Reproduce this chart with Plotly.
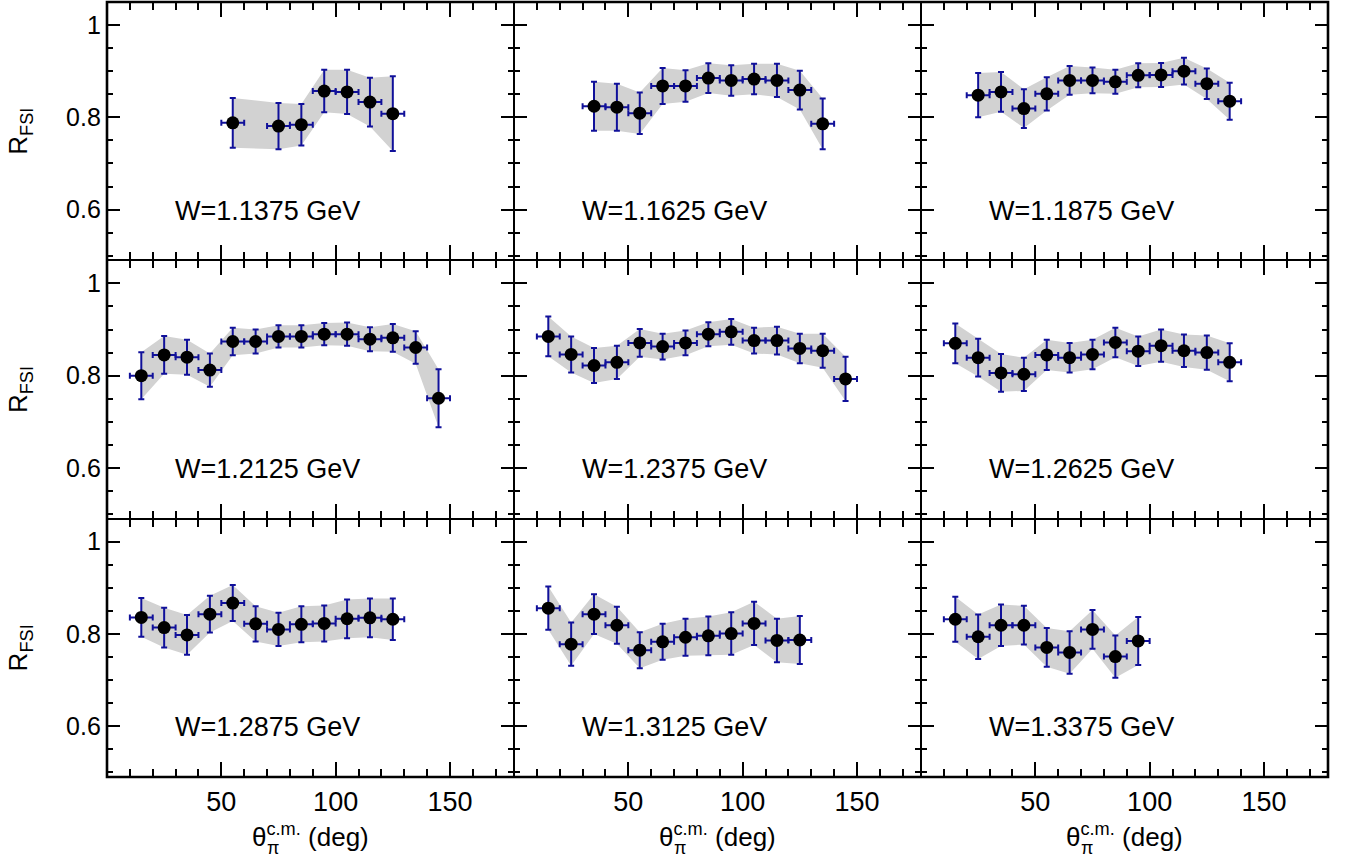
import plotly.graph_objects as go
from plotly.subplots import make_subplots

# W bins (GeV) and per-bin angular distributions of R_FSI
w_labels = ["W=1.1375 GeV", "W=1.1625 GeV", "W=1.1875 GeV",
            "W=1.2125 GeV", "W=1.2375 GeV", "W=1.2625 GeV",
            "W=1.2875 GeV", "W=1.3125 GeV", "W=1.3375 GeV"]

theta_1 = [55, 75, 85, 95, 105, 115, 125]
r_1 = [0.788, 0.781, 0.784, 0.857, 0.855, 0.833, 0.808]
err_1 = [0.054, 0.050, 0.045, 0.046, 0.048, 0.053, 0.081]

theta_2 = [35, 45, 55, 65, 75, 85, 95, 105, 115, 125, 135]
r_2 = [0.824, 0.822, 0.809, 0.868, 0.868, 0.885, 0.880, 0.883, 0.880, 0.859, 0.786]
err_2 = [0.053, 0.051, 0.045, 0.039, 0.034, 0.032, 0.033, 0.033, 0.036, 0.042, 0.055]

theta_3 = [25, 35, 45, 55, 65, 75, 85, 95, 105, 115, 125, 135]
r_3 = [0.848, 0.855, 0.819, 0.851, 0.880, 0.880, 0.877, 0.891, 0.892, 0.900, 0.873, 0.835]
err_3 = [0.048, 0.043, 0.042, 0.036, 0.031, 0.028, 0.026, 0.026, 0.026, 0.029, 0.033, 0.040]

theta_4 = [15, 25, 35, 45, 55, 65, 75, 85, 95, 105, 115, 125, 135, 145]
r_4 = [0.800, 0.845, 0.840, 0.812, 0.874, 0.874, 0.885, 0.885, 0.890, 0.890, 0.879, 0.882, 0.861, 0.751]
err_4 = [0.051, 0.041, 0.038, 0.036, 0.030, 0.026, 0.024, 0.024, 0.024, 0.025, 0.026, 0.030, 0.035, 0.063]

theta_5 = [15, 25, 35, 45, 55, 65, 75, 85, 95, 105, 115, 125, 135, 145]
r_5 = [0.885, 0.846, 0.822, 0.829, 0.871, 0.863, 0.871, 0.890, 0.895, 0.876, 0.876, 0.859, 0.854, 0.793]
err_5 = [0.043, 0.039, 0.038, 0.036, 0.030, 0.028, 0.027, 0.026, 0.028, 0.028, 0.030, 0.032, 0.037, 0.048]

theta_6 = [15, 25, 35, 45, 55, 65, 75, 85, 95, 105, 115, 125, 135]
r_6 = [0.870, 0.839, 0.806, 0.803, 0.845, 0.839, 0.846, 0.872, 0.853, 0.865, 0.854, 0.850, 0.829]
err_6 = [0.043, 0.041, 0.041, 0.036, 0.033, 0.032, 0.032, 0.032, 0.032, 0.035, 0.035, 0.037, 0.041]

theta_7 = [15, 25, 35, 45, 55, 65, 75, 85, 95, 105, 115, 125]
r_7 = [0.836, 0.814, 0.798, 0.843, 0.867, 0.822, 0.810, 0.821, 0.823, 0.833, 0.835, 0.832]
err_7 = [0.042, 0.043, 0.043, 0.040, 0.039, 0.038, 0.036, 0.039, 0.039, 0.042, 0.042, 0.045]

theta_8 = [15, 25, 35, 45, 55, 65, 75, 85, 95, 105, 115, 125]
r_8 = [0.856, 0.778, 0.843, 0.819, 0.765, 0.783, 0.793, 0.796, 0.801, 0.823, 0.786, 0.787]
err_8 = [0.047, 0.047, 0.043, 0.040, 0.039, 0.039, 0.040, 0.042, 0.046, 0.047, 0.047, 0.052]

theta_9 = [15, 25, 35, 45, 55, 65, 75, 85, 95]
r_9 = [0.832, 0.794, 0.819, 0.819, 0.771, 0.760, 0.810, 0.751, 0.785]
err_9 = [0.049, 0.048, 0.045, 0.042, 0.042, 0.046, 0.042, 0.046, 0.052]

dtheta = 5  # half bin width (deg)

panels = [(theta_1, r_1, err_1), (theta_2, r_2, err_2), (theta_3, r_3, err_3),
          (theta_4, r_4, err_4), (theta_5, r_5, err_5), (theta_6, r_6, err_6),
          (theta_7, r_7, err_7), (theta_8, r_8, err_8), (theta_9, r_9, err_9)]

FONT = "Liberation Sans, Arial, Helvetica, sans-serif"
ERRCOL = "#10109a"

fig = make_subplots(rows=3, cols=3, shared_xaxes=True, shared_yaxes=True,
                    horizontal_spacing=0, vertical_spacing=0)

for i, (th, r, e) in enumerate(panels):
    row, col = i // 3 + 1, i % 3 + 1
    upper = [a + b for a, b in zip(r, e)]
    lower = [a - b for a, b in zip(r, e)]
    # grey band
    fig.add_trace(go.Scatter(x=th + th[::-1], y=upper + lower[::-1],
                             fill="toself", fillcolor="#d2d2d2",
                             line=dict(width=0), mode="lines",
                             hoverinfo="skip", showlegend=False),
                  row=row, col=col)
    fig.add_trace(go.Scatter(x=th, y=r, mode="markers",
                             marker=dict(color="black", size=13),
                             error_y=dict(type="data", array=e, color=ERRCOL,
                                          thickness=2, width=3),
                             error_x=dict(type="constant", value=dtheta, color=ERRCOL,
                                          thickness=2, width=3),
                             showlegend=False),
                  row=row, col=col)
    fig.add_annotation(text=w_labels[i], x=29, y=0.598, xanchor="left", yanchor="middle",
                       showarrow=False, font=dict(family=FONT, size=27, color="black"),
                       row=row, col=col)

fig.update_xaxes(range=[0, 178], tickvals=[50, 100, 150], ticks="inside", ticklen=15,
                 tickwidth=1.5, tickcolor="black", showline=True, linecolor="black",
                 linewidth=1.3, mirror="ticks", showgrid=False, zeroline=False,
                 automargin=False,
                 minor=dict(tickmode="linear", tick0=0, dtick=10, ticks="inside",
                            ticklen=8, tickwidth=1.5, tickcolor="black", showgrid=False),
                 tickfont=dict(family=FONT, size=27, color="black"))
fig.update_yaxes(range=[0.49, 1.05], tickvals=[0.6, 0.8, 1.0], ticktext=["0.6", "0.8", "1"],
                 ticks="inside", ticklen=13, tickwidth=1.5, tickcolor="black",
                 showline=True, linecolor="black", linewidth=1.3, mirror="ticks",
                 showgrid=False, zeroline=False, automargin=False,
                 minor=dict(tickmode="linear", tick0=0, dtick=0.05, ticks="inside",
                            ticklen=6, tickwidth=1.5, tickcolor="black", showgrid=False),
                 tickfont=dict(family=FONT, size=25, color="black"))

for row in range(1, 4):
    fig.update_yaxes(title=dict(text="R<sub>FSI</sub>", standoff=30,
                                font=dict(family=FONT, size=26, color="black")),
                     row=row, col=1)

# outer frame
fig.add_shape(type="rect", xref="paper", yref="paper", x0=0, x1=1, y0=0, y1=1,
              line=dict(color="black", width=2.6), fillcolor="rgba(0,0,0,0)")

# x-axis titles with stacked sub/superscript
for col in range(3):
    xr = "x%d domain" % (7 + col)
    fig.add_annotation(text="θ<sup>c.m.</sup> (deg)", xref=xr, x=0.5, yref="paper", y=-0.076,
                       xanchor="center", yanchor="middle", showarrow=False,
                       font=dict(family=FONT, size=26, color="black"))
    fig.add_annotation(text="π", xref=xr, x=0.5, xshift=-46, yref="paper", y=-0.092,
                       xanchor="left", yanchor="middle", showarrow=False,
                       font=dict(family=FONT, size=18, color="black"))

fig.update_layout(width=1348, height=864, plot_bgcolor="white", paper_bgcolor="white",
                  margin=dict(l=107, r=20, t=2, b=87, autoexpand=False), showlegend=False,
                  font=dict(family=FONT, color="black"))

fig.write_html("out.html", config={"displayModeBar": False},
               post_script="document.body.style.margin='0';")
